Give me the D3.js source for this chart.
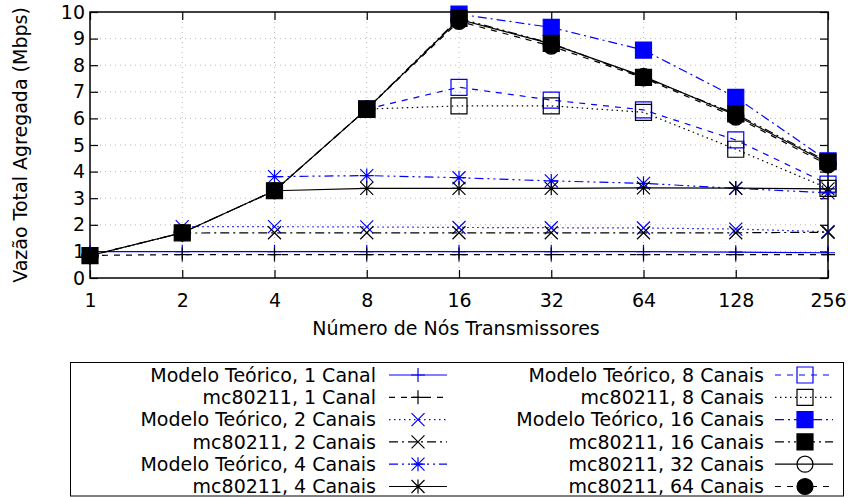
<!DOCTYPE html>
<html>
<head>
<meta charset="utf-8">
<script src="https://cdn.jsdelivr.net/npm/d3@7"></script>
<style>
  body { margin: 0; background: #fff; }
  text { font-family: "DejaVu Sans", sans-serif; font-size: 19px; fill: #000; }
</style>
</head>
<body>
<div id="chart"></div>
<script>
var width = 848,
    height = 497;

// data
var nodes = [1, 2, 4, 8, 16, 32, 64, 128, 256];
var yTicks = [0, 1, 2, 3, 4, 5, 6, 7, 8, 9, 10];

var teo1  = [0.99, 0.99, 0.99, 0.99, 0.99, 0.99, 0.99, 0.97, 0.95];
var mc1   = [0.85, 0.88, 0.88, 0.88, 0.88, 0.88, 0.88, 0.88, 0.88];
var teo2  = [null, 1.93, 1.93, 1.92, 1.90, 1.89, 1.88, 1.84, 1.74];
var mc2   = [null, 1.69, 1.70, 1.70, 1.70, 1.70, 1.70, 1.70, 1.72];
var teo4  = [null, null, 3.81, 3.85, 3.77, 3.65, 3.56, 3.37, 3.20];
var mc4   = [null, null, 3.28, 3.37, 3.37, 3.37, 3.39, 3.38, 3.35];
var teo8  = [null, null, null, 6.35, 7.17, 6.69, 6.32, 5.19, 3.53];
var mc8   = [null, null, null, 6.35, 6.47, 6.47, 6.23, 4.84, 3.37];
var teo16 = [null, null, null, null, 9.92, 9.42, 8.57, 6.79, 4.40];
var mc16  = [0.84, 1.70, 3.28, 6.35, 9.76, 8.82, 7.54, 6.17, 4.37];
var mc32  = [0.84, 1.70, 3.28, 6.35, 9.72, 8.80, 7.58, 6.12, 4.32];
var mc64  = [0.84, 1.70, 3.28, 6.35, 9.65, 8.72, 7.52, 6.05, 4.25];

var seriesNames = [
  "Modelo Teórico, 1 Canal", "mc80211, 1 Canal",
  "Modelo Teórico, 2 Canais", "mc80211, 2 Canais",
  "Modelo Teórico, 4 Canais", "mc80211, 4 Canais",
  "Modelo Teórico, 8 Canais", "mc80211, 8 Canais",
  "Modelo Teórico, 16 Canais", "mc80211, 16 Canais",
  "mc80211, 32 Canais", "mc80211, 64 Canais"
];
var seriesValues = [teo1, mc1, teo2, mc2, teo4, mc4, teo8, mc8, teo16, mc16, mc32, mc64];

// style per series
var blue = "#0000ff";
var styles = [
  {color: blue,   dash: null,               mark: "plus"},
  {color: "#000", dash: "6,6",              mark: "plus"},
  {color: blue,   dash: "1.5,3.5",          mark: "cross"},
  {color: "#000", dash: "9,4,2,4",          mark: "cross"},
  {color: blue,   dash: "9,4,2,4,2,4",      mark: "star"},
  {color: "#000", dash: null,               mark: "star"},
  {color: blue,   dash: "6,6",              mark: "box"},
  {color: "#000", dash: "1.5,3.5",          mark: "box"},
  {color: blue,   dash: "9,4,2,4",          mark: "fbox"},
  {color: "#000", dash: "9,4,2,4,2,4",      mark: "fbox"},
  {color: "#000", dash: null,               mark: "circle"},
  {color: "#000", dash: "6,6",              mark: "fcircle"}
];

var x = d3.scaleLog().base(2)
    .domain([1, 256])
    .range([90, 828]);

var y = d3.scaleLinear()
    .domain([0, 10])
    .range([278, 12]);

var svg = d3.select("#chart")
  .append("svg")
    .attr("width", width)
    .attr("height", height);

// grid
svg.append("g").selectAll("line")
    .data(yTicks.slice(1, -1))
  .enter().append("line")
    .attr("x1", x(1)).attr("x2", x(256))
    .attr("y1", d => y(d)).attr("y2", d => y(d))
    .attr("stroke", "#b8b8b8").attr("stroke-width", 1)
    .attr("stroke-dasharray", "1,4");

svg.append("g").selectAll("line")
    .data(nodes.slice(1, -1))
  .enter().append("line")
    .attr("x1", d => x(d)).attr("x2", d => x(d))
    .attr("y1", y(0)).attr("y2", y(10))
    .attr("stroke", "#b8b8b8").attr("stroke-width", 1)
    .attr("stroke-dasharray", "1,4");

// axes with inward ticks, mirrored
var tk = 8;
svg.append("g")
    .attr("transform", "translate(0," + y(0) + ")")
    .call(d3.axisBottom(x).tickValues(nodes).tickFormat(d3.format("d")).tickSize(-tk).tickPadding(16))
    .call(g => g.select(".domain").remove());
svg.append("g")
    .attr("transform", "translate(0," + y(10) + ")")
    .call(d3.axisTop(x).tickValues(nodes).tickFormat("").tickSize(-tk))
    .call(g => g.select(".domain").remove());
svg.append("g")
    .attr("transform", "translate(" + x(1) + ",0)")
    .call(d3.axisLeft(y).tickValues(yTicks).tickFormat(d3.format("d")).tickSize(-tk).tickPadding(5))
    .call(g => g.select(".domain").remove());
svg.append("g")
    .attr("transform", "translate(" + x(256) + ",0)")
    .call(d3.axisRight(y).tickValues(yTicks).tickFormat("").tickSize(-tk))
    .call(g => g.select(".domain").remove());

svg.selectAll(".tick line").attr("stroke", "#000").attr("stroke-width", 1.2);
svg.selectAll(".tick text")
    .style("font-family", "DejaVu Sans, sans-serif")
    .style("font-size", "19px")
    .attr("fill", "#000");

svg.append("rect")
    .attr("x", x(1)).attr("y", y(10))
    .attr("width", x(256) - x(1)).attr("height", y(0) - y(10))
    .attr("fill", "none").attr("stroke", "#000").attr("stroke-width", 1.5);

// axis titles
svg.append("text")
    .attr("x", (x(1) + x(256)) / 2 - 3)
    .attr("y", 335)
    .attr("text-anchor", "middle")
    .text("Número de Nós Transmissores");

svg.append("text")
    .attr("transform", "translate(27,145) rotate(-90)")
    .attr("text-anchor", "middle")
    .text("Vazão Total Agregada (Mbps)");

// markers
function markPath(type, cx, cy) {
  var p = d3.path();
  var a = 7, b = 6.5, s = 8;
  if (type === "plus" || type === "star") {
    p.moveTo(cx - a, cy); p.lineTo(cx + a, cy);
    p.moveTo(cx, cy - a); p.lineTo(cx, cy + a);
  }
  if (type === "cross" || type === "star") {
    p.moveTo(cx - b, cy - b); p.lineTo(cx + b, cy + b);
    p.moveTo(cx - b, cy + b); p.lineTo(cx + b, cy - b);
  }
  if (type === "box" || type === "fbox") {
    p.rect(cx - s, cy - s, 2 * s, 2 * s);
  }
  if (type === "circle" || type === "fcircle") {
    p.moveTo(cx + s, cy);
    p.arc(cx, cy, s, 0, 2 * Math.PI);
  }
  return p.toString();
}

function drawMark(g, type, color, cx, cy) {
  var filled = type === "fbox" || type === "fcircle";
  g.append("path")
      .attr("d", markPath(type, cx, cy))
      .attr("fill", filled ? color : "none")
      .attr("stroke", color)
      .attr("stroke-width", 1.2);
}

var line = d3.line()
    .defined(d => d[1] != null)
    .x(d => x(d[0]))
    .y(d => y(d[1]));

seriesValues.forEach(function(vals, i) {
  var st = styles[i];
  var pts = nodes.map((n, j) => [n, vals[j]]);
  var g = svg.append("g");
  g.append("path")
      .attr("d", line(pts))
      .attr("fill", "none")
      .attr("stroke", st.color)
      .attr("stroke-width", 1.2)
      .attr("stroke-dasharray", st.dash);
  pts.filter(d => d[1] != null).forEach(function(d) {
    drawMark(g, st.mark, st.color, x(d[0]), y(d[1]));
  });
});

// legend
svg.append("rect")
    .attr("x", 70.5).attr("y", 362.5)
    .attr("width", 773).attr("height", 133.5)
    .attr("fill", "none").attr("stroke", "#000").attr("stroke-width", 1);

var cols = [
  {textX: 376, x1: 389, x2: 447, mx: 418},
  {textX: 764, x1: 775, x2: 833, mx: 805}
];

seriesNames.forEach(function(name, i) {
  var c = cols[Math.floor(i / 6)];
  var cy = 375 + (i % 6) * 22.3;
  var st = styles[i];
  var g = svg.append("g");
  g.append("text")
      .attr("x", c.textX)
      .attr("y", cy)
      .attr("dy", "0.36em")
      .attr("text-anchor", "end")
      .text(name);
  g.append("line")
      .attr("x1", c.x1).attr("x2", c.x2)
      .attr("y1", cy).attr("y2", cy)
      .attr("stroke", st.color)
      .attr("stroke-width", 1.2)
      .attr("stroke-dasharray", st.dash);
  drawMark(g, st.mark, st.color, c.mx, cy);
});
</script>
</body>
</html>
